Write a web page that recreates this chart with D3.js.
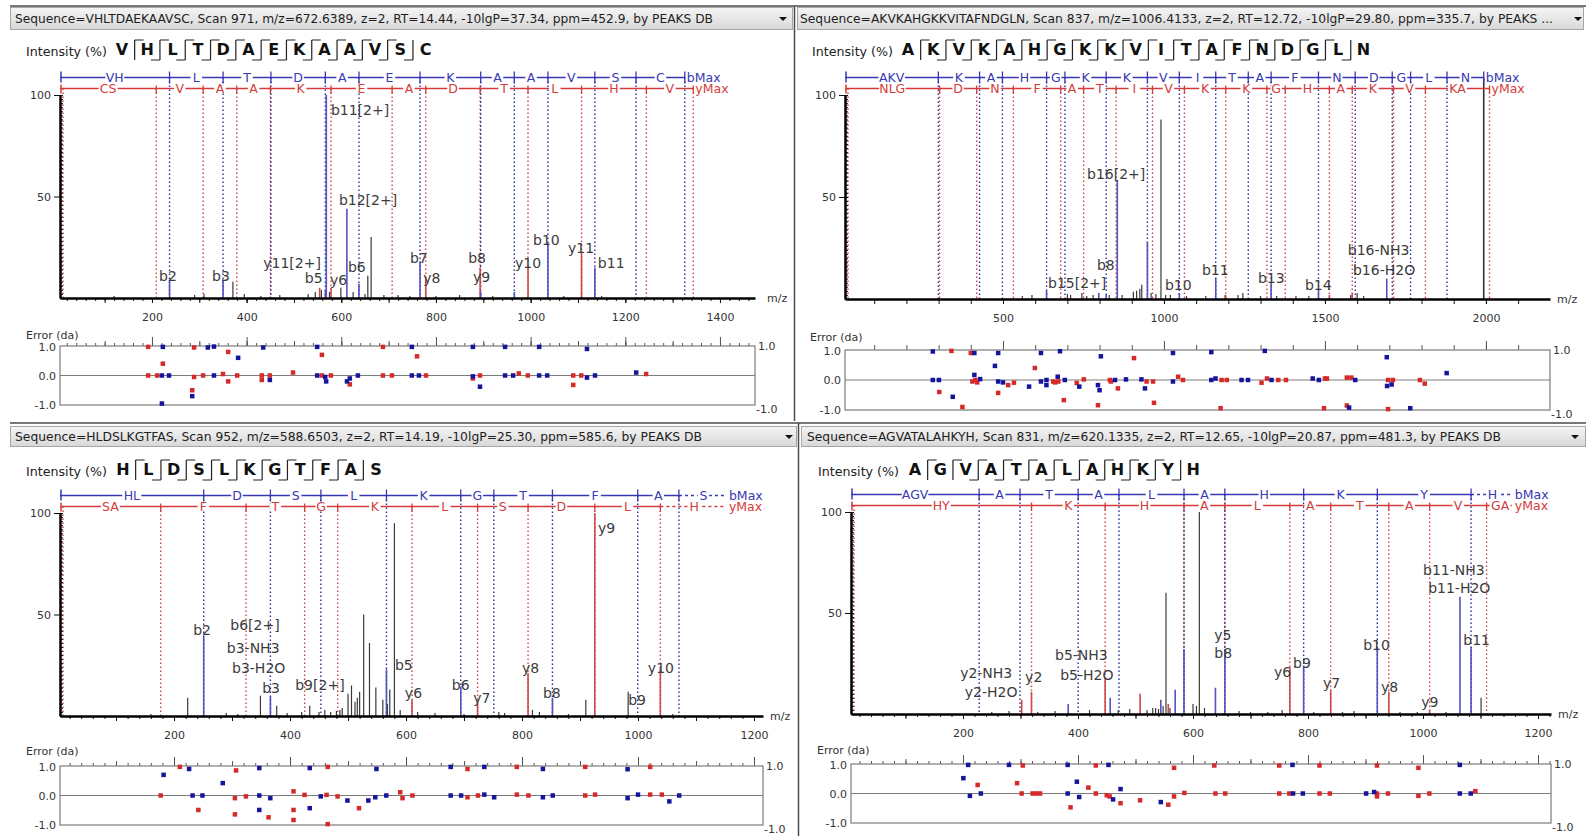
<!DOCTYPE html>
<html><head><meta charset="utf-8">
<script src="https://cdn.jsdelivr.net/npm/d3@7"></script>
<style>
html,body{margin:0;padding:0;background:#fff;}
svg{display:block;}
text{font-family:"DejaVu Sans",sans-serif;}
</style></head><body>
<svg id="c" width="1586" height="836"></svg>
<script>
// ===================== DATA =====================
// ---- Panel 1 ----
const P1_title = "Sequence=VHLTDAEKAAVSC, Scan 971, m/z=672.6389, z=2, RT=14.44, -10lgP=37.34, ppm=452.9, by PEAKS DB";
const P1_seq = "VHLTDAEKAAVSC";
const P1_hooks = ["T","TB","TB","TB","TB","TB","TB","TB","TB","TB","TB","B"];
const P1_bTicks = [237.13,350.22,451.27,566.29,637.33,766.37,894.47,965.50,1036.54,1135.61,1222.64,1325.65];
const P1_bLab = ["VH","L","T","D","A","E","K","A","A","V","S","C"];
const P1_yTicks = [209.06,308.13,379.16,450.20,578.30,707.34,778.38,893.40,994.45,1107.54,1244.59,1343.66];
const P1_yLab = ["CS","V","A","A","K","E","A","D","T","L","H","V"];
const P1_peaksB = [[237.1,9],[350.2,9],[566.3,4],[568.3,100],[611.8,44],[637.3,7],[766.4,18],[894.5,3],[965.5,3],[1036.5,27],[1135.6,15]];
const P1_peaksY = [[554.3,5],[578.3,5],[778.4,10],[893.4,15],[994.5,15],[1107.5,22]];
const P1_peaksN = [[120,1],[290,1.5],[310,2],[371,8],[395,2],[430,1],[470,1.5],[530,2],[545,3],[558,4],[575,3],[599,5],[625,3],[650,2],[656,11],[663,30],[690,1.5],[720,1.5],[745,1],[800,1],[850,1.5],[920,1],[1070,1],[1150,1]];
const P1_labels = [["b11[2+]",578,90],["b12[2+]",595,46],["y11[2+]",435,15],["b2",215,8.4],["b3",327,8.4],["b5",523,7.4],["y6",576,6.4],["b6",614,12.8],["b7",745,17.2],["y8",773,7.4],["b8",868,17.2],["y9",878,7.9],["y10",967,14.8],["b10",1005,26],["y11",1079,22],["b11",1142,14.8]];
const P1_errB = [[223,0.97],[318,0.95],[331,0.98],[382,0.6],[435,0.95],[549,0.97],[221,0],[236,0],[331,0],[449,-0.15],[549,0],[566,-0.05],[568,-0.2],[612,-0.2],[618,-0.1],[635,0],[221,-0.95],[285,-0.7],[749,0.97],[749,0],[764,0],[878,0.97],[878,-0.03],[893,-0.38],[946,0.97],[946,0],[963,0],[1018,0.97],[1018,0],[1035,0],[1119,0.9],[1119,-0.07],[1136,0],[1223,0.1]];
const P1_errY = [[192,0.97],[289,0.95],[361,0.8],[559,0.7],[688,0.97],[192,0],[211,0],[223,0.4],[289,-0.05],[308,0],[350,0.05],[361,-0.2],[380,0],[432,0],[432,-0.15],[449,0],[498,0.1],[559,0],[578,0],[618,-0.3],[688,0],[707,0],[285,-0.5],[760,0.65],[779,0],[878,-0.1],[893,0],[975,0.07],[994,0],[1090,0],[1090,-0.32],[1107,0],[1244,0.05]];
const P1_xTicks = [200,400,600,800,1000,1200,1400];

// ---- Panel 2 ----
const P2_title = "Sequence=AKVKAHGKKVITAFNDGLN, Scan 837, m/z=1006.4133, z=2, RT=12.72, -10lgP=29.80, ppm=335.7, by PEAKS ...";
const P2_seq = "AKVKAHGKKVITAFNDGLN";
const P2_hooks = ["T","TB","TB","TB","TB","TB","TB","TB","TB","TB","TB","TB","TB","TB","TB","TB","TB","B"];
const P2_bTicks = [299.21,427.30,498.34,635.40,692.42,820.52,948.61,1047.68,1160.76,1261.81,1332.85,1479.92,1593.96,1708.99,1766.01,1879.09,1993.13];
const P2_bLab = ["AKV","K","A","H","G","K","K","V","I","T","A","F","N","D","G","L","N"];
const P2_yTicks = [303.17,418.19,532.24,679.30,750.34,851.39,964.47,1063.54,1191.64,1319.73,1376.75,1513.81,1584.85,1712.94,1812.01,2011.14];
const P2_yLab = ["NLG","D","N","F","A","T","I","V","K","K","G","H","A","K","V","KA"];
const P2_peaksB = [[635.4,4],[797.5,3],[820.5,2],[855.0,58],[948.6,28],[1047.7,3],[1160.8,10],[1332.8,8],[1479.9,5],[1692,10]];
const P2_peaksY = [[1191.6,2],[1513.8,2],[1584.8,3]];
const P2_peaksN = [[560,1.5],[590,2],[700,2.5],[710,2],[745,3],[760,1.5],[780,2],[830,2],[870,2],[905,3.5],[915,4],[925,5],[931,7],[960,3],[975,2.5],[990.7,88],[1005,2],[1020,2],[1070,1.5],[1130,1.5],[1190,2],[1230,2],[1245,3],[1300,1.5],[1350,1.5],[1410,1.5],[1450,1.5],[1580,2],[1600,3],[1620,1.5]];
const P2_labels = [["b16[2+]",761,59],["b8",792,14],["b15[2+]",640,5.4],["b10",1003,4.4],["b11",1118,11.8],["b13",1292,7.8],["b14",1438,4.4],["b16-NH3",1571,21.6],["b16-H2O",1587,11.8]];
const P2_errB = [[282,0.95],[282,0],[301,0],[344,-0.56],[411,0.9],[411,0.17],[429,0.03],[485,0.9],[475,0.47],[485,-0.05],[500,-0.08],[581,-0.22],[618,0.9],[618,-0.05],[635,-0.17],[635,0],[670,0.11],[677,0.96],[692,0],[737,-0.22],[795,-0.17],[800,-0.34],[804,0.79],[848,0],[882,0.02],[930,0.02],[941,-0.28],[1028,0.9],[1028,-0.05],[1147,0.93],[1147,0],[1160,0.05],[1241,0],[1261,0],[1313,0.97],[1334,0],[1462,0.05],[1481,0],[1594,0],[1575,-0.92],[1692,0.76],[1693,-0.2],[1707,-0.15],[1765,-0.94],[1878,0.23]];
const P2_errY = [[340,0.97],[302,-0.4],[374,-0.9],[400,0.9],[405,-0.05],[414,0],[420,-0.08],[485,-0.43],[516,-0.17],[534,-0.09],[599,0.4],[656,-0.05],[662,-0.08],[689,-0.67],[672,-0.05],[729,-0.1],[751,0.02],[795,-0.84],[832,0],[835,-0.05],[857,-0.28],[907,0.73],[946,-0.05],[966,-0.05],[969,-0.76],[1044,0.11],[1059,0],[1176,-0.94],[1179,0],[1195,0],[1303,-0.09],[1320,0.05],[1355,0],[1379,0],[1500,0.05],[1506,0.05],[1497,-0.94],[1568,0.08],[1582,0.08],[1568,-0.85],[1696,0],[1711,0],[1696,-0.97],[1795,0],[1810,-0.12]];
const P2_xTicks = [500,1000,1500,2000];

// ---- Panel 3 ----
const P3_title = "Sequence=HLDSLKGTFAS, Scan 952, m/z=588.6503, z=2, RT=14.19, -10lgP=25.30, ppm=585.6, by PEAKS DB";
const P3_seq = "HLDSLKGTFAS";
const P3_hooks = ["T","TB","TB","TB","TB","TB","TB","TB","TB","B"];
const P3_bTicks = [251.15,366.18,453.21,566.29,694.39,751.41,852.46,999.53,1070.56];
const P3_bLab = ["HL","D","S","L","K","G","T","F","A"];
const P3_bTail = {label:"S", end:1155};
const P3_yTicks = [177.09,324.16,425.20,482.22,610.32,723.40,810.44,925.46,1038.55];
const P3_yLab = ["SA","F","T","G","K","L","S","D","L"];
const P3_yTail = {label:"H", end:1155};
const P3_peaksB = [[251.2,39],[366.2,9.5],[566.3,23],[694.4,14.5],[852.5,9]];
const P3_peaksY = [[610.3,8],[723.4,6],[810.4,21],[925.5,100],[1038.5,24]];
const P3_peaksN = [[160,1],[223.6,9],[290,1.5],[310,1],[349,10],[377,5],[395,1.5],[420,2],[434,5],[450,2],[460,3],[470,2],[480,2.5],[486,3],[490,4],[500,11],[506,15],[512,7],[516,9],[520,12],[527,50],[537,36],[548,14],[560,8],[568,6],[572,13],[580,95],[590,3],[620,2],[650,1.5],[700,1],[760,2],[770,1.5],[818,3],[830,2],[880,1],[910,8],[983,12],[1060,1]];
const P3_labels = [["b2",233,40],["b6[2+]",297,42.5],["b3-NH3",291,31],["b3-H2O",300,21],["b3",352,11.4],["b9[2+]",409,12.8],["b5",581,22.7],["y6",598,8.9],["b6",679,12.8],["y7",716,6.4],["y8",800,21],["b8",836,8.9],["y9",931,90],["b9",983,5.4],["y10",1017,21]];
const P3_errB = [[182,0.7],[226,0.9],[232,0],[249,0],[284,0.42],[347,0.93],[347,0],[347,-0.49],[366,-0.09],[434,0.93],[434,-0.43],[453,-0.03],[499,-0.17],[535,-0.17],[547,-0.06],[549,0.9],[566,0],[677,0.97],[677,0],[695,0],[735,0.97],[735,0.03],[752,-0.06],[836,0.9],[836,-0.06],[853,0],[982,0.89],[982,-0.09],[1000,0.03],[1054,-0.2],[1071,0]];
const P3_errY = [[177,0],[210,0.97],[242,-0.49],[307,0.85],[305,-0.09],[305,-0.64],[324,-0.03],[363,-0.74],[406,0.14],[406,-0.49],[406,-0.83],[425,0.02],[463,0.02],[465,0.97],[465,-0.97],[482,-0.03],[519,-0.43],[590,0.11],[594,-0.09],[611,0],[706,0.9],[706,-0.06],[724,0],[791,0.97],[791,0.03],[811,0],[909,0.97],[909,0],[926,0.03],[1021,0.97],[1021,0.03],[1041,0.03]];
const P3_xTicks = [200,400,600,800,1000,1200];

// ---- Panel 4 ----
const P4_title = "Sequence=AGVATALAHKYH, Scan 831, m/z=620.1335, z=2, RT=12.65, -10lgP=20.87, ppm=481.3, by PEAKS DB";
const P4_seq = "AGVATALAHKYH";
const P4_hooks = ["T","T","TB","TB","TB","TB","TB","TB","TB","TB","B"];
const P4_bTicks = [228.13,299.17,400.22,471.26,584.34,655.38,792.44,920.53,1083.59];
const P4_bLab = ["AGV","A","T","A","L","A","H","K","Y"];
const P4_bTail = {label:"H", end:1158};
const P4_yTicks = [319.14,447.24,584.29,655.33,768.42,839.45,940.50,1011.54,1110.61];
const P4_yLab = ["HY","K","H","A","L","A","T","A","V"];
const P4_yTail = {label:"GA", end:1158};
const P4_peaksB = [[383,5],[456,8],[544,7],[569,12],[584.3,32],[639,13],[655.4,32],[792.4,24],[920.5,33],[1064.3,58],[1083.6,33]];
const P4_peaksY = [[302.1,7],[319.1,11],[447.2,18],[508,10],[557,5],[768.4,23],[839.5,12],[940.5,11],[1011.5,2]];
const P4_peaksN = [[250,1],[280,1.5],[330,1],[360,1.5],[420,2],[470,2],[490,2.5],[520,2],[530,3],[535,3],[540,2.5],[548,4],[553,60],[560,3],[600,5],[606,4],[611,100],[620,3],[680,1.5],[700,1],[730,1],[755,2],[810,1],[860,1],[880,1.5],[960,1],[990,1],[1040,1],[1101,8]];
const P4_labels = [["y2-NH3",195,17.8],["y2-H2O",203,8.4],["y2",308,15.8],["b5-NH3",360,26.7],["b5-H2O",369,16.8],["y5",637,36.6],["b8",637,27.7],["y6",741,18.3],["b9",774,22.8],["y7",826,12.9],["b10",896,31.7],["y8",927,10.9],["y9",997,3.5],["b11-NH3",1000,68.8],["b11-H2O",1009,59.9],["b11",1070,34.2]];
const P4_errB = [[200.6,0.52],[209,0.97],[212,-0.08],[231,0],[280,0.97],[382,0.97],[398,0.4],[382,0],[402,-0.12],[453,0.97],[461,-0.2],[474,0.15],[544,-0.29],[773,0.97],[774,0],[791,0],[901,0],[915,0.05],[1064,0.97],[1064,0],[1083,0]];
const P4_errY = [[225.5,0.29],[304,0.95],[294,0.35],[302,0],[321,0],[327,0],[334,0],[387,-0.47],[418,0.2],[431,0.95],[431,0],[450,-0.06],[455,-0.1],[474,-0.33],[508,-0.23],[557,-0.38],[567,0.87],[567,-0.1],[585,0.02],[637,0.95],[639,0],[656,0],[750,0.95],[750,0],[767.5,0],[820,0.95],[820,0],[838,0],[920,0.95],[920,0],[920,-0.1],[939,0],[992,0.87],[992,-0.08],[1011,0],[1091,0.08]];
const P4_xTicks = [200,400,600,800,1000,1200];

// ===================== LAYOUT =====================
const PANELS = [
 {title:P1_title, seq:P1_seq, hooks:P1_hooks, bT:P1_bTicks, bL:P1_bLab, bTail:null, yT:P1_yTicks, yL:P1_yLab, yTail:null,
  pB:P1_peaksB, pY:P1_peaksY, pN:P1_peaksN, labels:P1_labels, eB:P1_errB, eY:P1_errY, xTicks:P1_xTicks,
  geo:{bar:[10,7,783,23], titleX:15, titleLen:698, arrowX:783, introX:26, seqX:122, seqBase:55,
       x0:60, x1:755, dom:[5.7,1474], y100:95, yAxis:298, errTop:346, errBot:405, mzX:767, errLblX:26, errLblY:339,
       steps:[20,100,200], bSolidLast:false}},
 {title:P2_title, seq:P2_seq, hooks:P2_hooks, bT:P2_bTicks, bL:P2_bLab, bTail:null, yT:P2_yTicks, yL:P2_yLab, yTail:null,
  pB:P2_peaksB, pY:P2_peaksY, pN:P2_peaksN, labels:P2_labels, eB:P2_errB, eY:P2_errY, xTicks:P2_xTicks,
  geo:{bar:[797,7,787,23], titleX:800, titleLen:753, arrowX:1578, introX:812, seqX:908, seqBase:55,
       x0:845, x1:1550, dom:[9.3,2199], y100:95, yAxis:299, errTop:350, errBot:410, mzX:1557, errLblX:810, errLblY:341,
       steps:[null,100,500], bSolidLast:true}},
 {title:P3_title, seq:P3_seq, hooks:P3_hooks, bT:P3_bTicks, bL:P3_bLab, bTail:P3_bTail, yT:P3_yTicks, yL:P3_yLab, yTail:P3_yTail,
  pB:P3_peaksB, pY:P3_peaksY, pN:P3_peaksN, labels:P3_labels, eB:P3_errB, eY:P3_errY, xTicks:P3_xTicks,
  geo:{bar:[10,426,787,21], titleX:15, titleLen:687, arrowX:789, introX:26, seqX:123, seqBase:475,
       x0:60, x1:763, dom:[3.4,1215.5], y100:513, yAxis:716, errTop:766, errBot:825, mzX:770, errLblX:26, errLblY:755,
       steps:[20,100,200], bSolidLast:false}},
 {title:P4_title, seq:P4_seq, hooks:P4_hooks, bT:P4_bTicks, bL:P4_bLab, bTail:P4_bTail, yT:P4_yTicks, yL:P4_yLab, yTail:P4_yTail,
  pB:P4_peaksB, pY:P4_peaksY, pN:P4_peaksN, labels:P4_labels, eB:P4_errB, eY:P4_errY, xTicks:P4_xTicks,
  geo:{bar:[801,426,785,21], titleX:807, titleLen:694, arrowX:1575, introX:818, seqX:915, seqBase:475,
       x0:851, x1:1551, dom:[5.2,1222.6], y100:512, yAxis:714, errTop:764, errBot:823, mzX:1558, errLblX:817, errLblY:754,
       steps:[20,100,200], bSolidLast:false}}
];

const C = {
  bPeak:"#5252c2", yPeak:"#cf4848", nPeak:"#3a3a3a",
  bDot:"#2b2ba0", yDot:"#d24444",
  bLad:"#3838b4", yLad:"#d43c3c",
  eB:"#14149c", eY:"#d62a2a"
};

const svg = d3.select("#c");
const defs = svg.append("defs");
const grad = defs.append("linearGradient").attr("id","barg").attr("x1",0).attr("y1",0).attr("x2",0).attr("y2",1);
grad.append("stop").attr("offset","0%").attr("stop-color","#f5f5f5");
grad.append("stop").attr("offset","100%").attr("stop-color","#d8d8d8");

const frame = svg.append("g").attr("stroke","#4a4a4a").attr("stroke-width",1.5);
frame.append("line").attr("x1",10).attr("x2",1586).attr("y1",6).attr("y2",6);
frame.append("line").attr("x1",10).attr("x2",1586).attr("y1",423).attr("y2",423);
frame.append("line").attr("x1",794.5).attr("x2",794.5).attr("y1",6).attr("y2",421);
frame.append("line").attr("x1",798.5).attr("x2",798.5).attr("y1",423).attr("y2",836);

const LADFONT = 12.5, LADCH = 7.5;

function drawPanel(P){
  const G = P.geo;
  const g = svg.append("g");
  const x = d3.scaleLinear().domain(G.dom).range([G.x0, G.x1]);
  const y = d3.scaleLinear().domain([0,100]).range([G.yAxis, G.y100]);
  const e = d3.scaleLinear().domain([-1,1]).range([G.errBot, G.errTop]);

  const [bx,by,bw,bh] = G.bar;
  g.append("rect").attr("x",bx+0.5).attr("y",by+0.5).attr("width",bw-1).attr("height",bh-1)
    .attr("fill","url(#barg)").attr("stroke","#a6a6a6");
  g.append("text").attr("x",G.titleX).attr("y",by+bh/2+4.2).attr("font-size",12).attr("fill","#1e1e1e")
    .attr("textLength",G.titleLen).attr("lengthAdjust","spacingAndGlyphs").text(P.title);
  const ax = G.arrowX, ay = by+bh/2;
  g.append("path").attr("d",`M${ax-4},${ay-1.5}L${ax+4},${ay-1.5}L${ax},${ay+2.5}Z`).attr("fill","#111");

  g.append("text").attr("x",G.introX).attr("y",G.seqBase+1).attr("font-size",12).attr("fill","#222")
    .attr("textLength",81).attr("lengthAdjust","spacingAndGlyphs").text("Intensity (%)");
  const step = 25.3;
  P.seq.split("").forEach((ch,i)=>{
    g.append("text").attr("x",G.seqX+i*step).attr("y",G.seqBase).attr("text-anchor","middle")
      .attr("font-family","Liberation Serif").attr("font-weight","bold").attr("font-size",16).attr("fill","#111").text(ch);
  });
  P.hooks.forEach((h,i)=>{
    const sx = G.seqX+i*step+step/2, t = G.seqBase-15, b = G.seqBase+5;
    let d = `M${sx},${t}V${b}`;
    if (h.includes("T")) d += `M${sx},${t}H${sx+9}`;
    if (h.includes("B")) d += `M${sx},${b}H${sx-9}`;
    g.append("path").attr("d",d).attr("fill","none").attr("stroke","#222").attr("stroke-width",1.2);
  });

  const bY = G.y100 - 17.5, rY = G.y100 - 6.5;

  const drops = (ticks, lineY, col, solidLast) => {
    ticks.forEach((m,i)=>{
      const solid = solidLast && i===ticks.length-1;
      g.append("line").attr("x1",x(m)).attr("x2",x(m)).attr("y1",lineY).attr("y2",G.yAxis)
        .attr("stroke", solid ? "#333" : col).attr("stroke-width", solid ? 1.6 : 1.4)
        .attr("stroke-dasharray", solid ? null : "1.6,2.4");
    });
  };
  drops(P.yT, rY, C.yDot, false);
  drops(P.bT, bY, C.bDot, G.bSolidLast);
  g.append("line").attr("x1",G.x0+3).attr("x2",G.x0+3).attr("y1",rY).attr("y2",G.yAxis)
    .attr("stroke",C.yDot).attr("stroke-width",1.4).attr("stroke-dasharray","1.6,2.4");

  const pk = (arr,col,w)=>arr.forEach(([m,I])=>{
    g.append("line").attr("x1",x(m)).attr("x2",x(m)).attr("y1",y(0)).attr("y2",y(I))
      .attr("stroke",col).attr("stroke-width",w);
  });
  pk(P.pN, C.nPeak, 1.2);
  pk(P.pY, C.yPeak, 1.6);
  pk(P.pB, C.bPeak, 1.6);

  const ladder = (ticks, labels, tail, lineY, col, maxText, up, down) => {
    const lastX = x(ticks[ticks.length-1]);
    const endX = tail ? x(tail.end) : lastX;
    g.append("line").attr("x1",G.x0).attr("x2",lastX).attr("y1",lineY).attr("y2",lineY)
      .attr("stroke",col).attr("stroke-width",1.3);
    if (tail) {
      g.append("line").attr("x1",lastX).attr("x2",endX-2).attr("y1",lineY).attr("y2",lineY)
        .attr("stroke",col).attr("stroke-width",1.3).attr("stroke-dasharray","3,3");
    }
    ticks.forEach(m=>{
      g.append("line").attr("x1",x(m)).attr("x2",x(m)).attr("y1",lineY-up).attr("y2",lineY+down)
        .attr("stroke",col).attr("stroke-width",1.3);
    });
    const pos = [G.x0].concat(ticks.map(x));
    const labs = labels.map((t,i)=>[t,(pos[i]+pos[i+1])/2]);
    if (tail) labs.push([tail.label,(lastX+endX)/2]);
    labs.forEach(([t,cx])=>{
      const w = t.length*LADCH+4;
      g.append("rect").attr("x",cx-w/2).attr("y",lineY-3).attr("width",w).attr("height",6).attr("fill","#fff");
      g.append("text").attr("x",cx).attr("y",lineY+4).attr("text-anchor","middle")
        .attr("font-family","Liberation Mono").attr("font-size",LADFONT).attr("fill",col).text(t);
    });
    g.append("text").attr("x",endX+(tail?1:2)).attr("y",lineY+4)
      .attr("font-family","Liberation Mono").attr("font-size",LADFONT).attr("fill",col).text(maxText);
  };
  ladder(P.bT, P.bL, P.bTail, bY, C.bLad, "bMax", 6, 6);
  ladder(P.yT, P.yL, P.yTail, rY, C.yLad, "yMax", 3, 5);
  g.append("line").attr("x1",G.x0+1).attr("x2",G.x0+1).attr("y1",bY-6).attr("y2",bY+5).attr("stroke",C.bLad).attr("stroke-width",1.5);
  g.append("line").attr("x1",G.x0+1).attr("x2",G.x0+1).attr("y1",rY-4).attr("y2",rY+5).attr("stroke",C.yLad).attr("stroke-width",1.5);

  P.labels.forEach(([t,m,I])=>{
    g.append("text").attr("x",x(m)).attr("y",y(I)).attr("font-size",14).attr("fill","#3c3c3c").text(t);
  });

  const fmt = d => String(d);
  const styleAxis = (sel, sw) => {
    sel.selectAll("path.domain").attr("stroke","#000").attr("stroke-width",sw);
    sel.selectAll(".tick line").attr("stroke","#111");
    sel.selectAll(".tick text").attr("font-family","DejaVu Sans").attr("font-size",11).attr("fill","#333");
  };
  const st = G.steps;
  if (st[0]) {
    const mi = g.append("g").attr("transform",`translate(0,${G.yAxis})`)
      .call(d3.axisBottom(x).tickValues(d3.range(0,G.dom[1],st[0]).filter(v=>v>=G.dom[0])).tickSize(3).tickFormat(""));
    mi.select("path.domain").remove(); mi.selectAll(".tick line").attr("stroke","#111");
  }
  const mid = g.append("g").attr("transform",`translate(0,${G.yAxis})`)
    .call(d3.axisBottom(x).tickValues(d3.range(0,G.dom[1],st[1]).filter(v=>v>=G.dom[0])).tickSize(5).tickFormat(""));
  mid.select("path.domain").remove(); mid.selectAll(".tick line").attr("stroke","#111");
  const xa = g.append("g").attr("transform",`translate(0,${G.yAxis})`)
    .call(d3.axisBottom(x).tickValues(P.xTicks).tickSize(5).tickSizeOuter(0).tickPadding(10).tickFormat(fmt));
  styleAxis(xa, 2.5);
  g.append("text").attr("x",G.mzX).attr("y",G.yAxis+4).attr("font-size",11).attr("fill","#333").text("m/z");

  const yr = g.append("g").attr("transform",`translate(${G.x0},0)`)
    .call(d3.axisRight(y).tickValues(d3.range(0,101,2)).tickSize(3).tickFormat(""));
  yr.select("path.domain").remove(); yr.selectAll(".tick line").attr("stroke","#111");
  const ya = g.append("g").attr("transform",`translate(${G.x0},0)`)
    .call(d3.axisLeft(y).tickValues([50,100]).tickSize(6).tickSizeOuter(0).tickPadding(3).tickFormat(fmt));
  styleAxis(ya, 2.5);

  g.append("text").attr("x",G.errLblX).attr("y",G.errLblY).attr("font-size",11).attr("fill","#333").text("Error (da)");
  const topTicks = (stp, len)=>{
    const a = g.append("g").attr("transform",`translate(0,${G.errTop})`)
      .call(d3.axisTop(x).tickValues(d3.range(0,G.dom[1],stp).filter(v=>v>=G.dom[0])).tickSize(len).tickFormat(""));
    a.select("path.domain").remove(); a.selectAll(".tick line").attr("stroke","#555");
  };
  if (st[0]) topTicks(st[0],3);
  topTicks(st[1],5);
  topTicks(st[2],9);
  g.append("rect").attr("x",G.x0).attr("y",G.errTop).attr("width",G.x1-G.x0).attr("height",G.errBot-G.errTop)
    .attr("fill","none").attr("stroke","#7c7c7c").attr("stroke-width",1.2);
  g.append("line").attr("x1",G.x0).attr("x2",G.x1).attr("y1",e(0)).attr("y2",e(0)).attr("stroke","#7c7c7c").attr("stroke-width",1.2);
  const el = g.append("g").attr("transform",`translate(${G.x0},0)`)
    .call(d3.axisLeft(e).tickValues([-1,0,1]).tickSize(0).tickPadding(4).tickFormat(d=>d.toFixed(1)));
  el.select("path.domain").remove();
  el.selectAll(".tick text").attr("font-family","DejaVu Sans").attr("font-size",11).attr("fill","#333");
  el.selectAll(".tick").filter(d=>d>0).select("text").attr("dy","0.45em");
  const er = g.append("g").attr("transform",`translate(${G.x1},0)`)
    .call(d3.axisRight(e).tickValues([-1,1]).tickSize(0).tickPadding(3).tickFormat(d=>d.toFixed(1)));
  er.select("path.domain").remove();
  er.selectAll(".tick text").attr("font-family","DejaVu Sans").attr("font-size",11).attr("fill","#333");
  er.selectAll(".tick").filter(d=>d<0).select("text").attr("dy","0.7em").attr("x",1);
  const sq = 4.5;
  const pts = (arr,col)=>arr.forEach(([m,v])=>{
    g.append("rect").attr("x",x(m)-sq/2).attr("y",e(v)-sq/2).attr("width",sq).attr("height",sq).attr("fill",col);
  });
  pts(P.eY, C.eY);
  pts(P.eB, C.eB);
}

PANELS.forEach(drawPanel);
</script>
</body></html>
